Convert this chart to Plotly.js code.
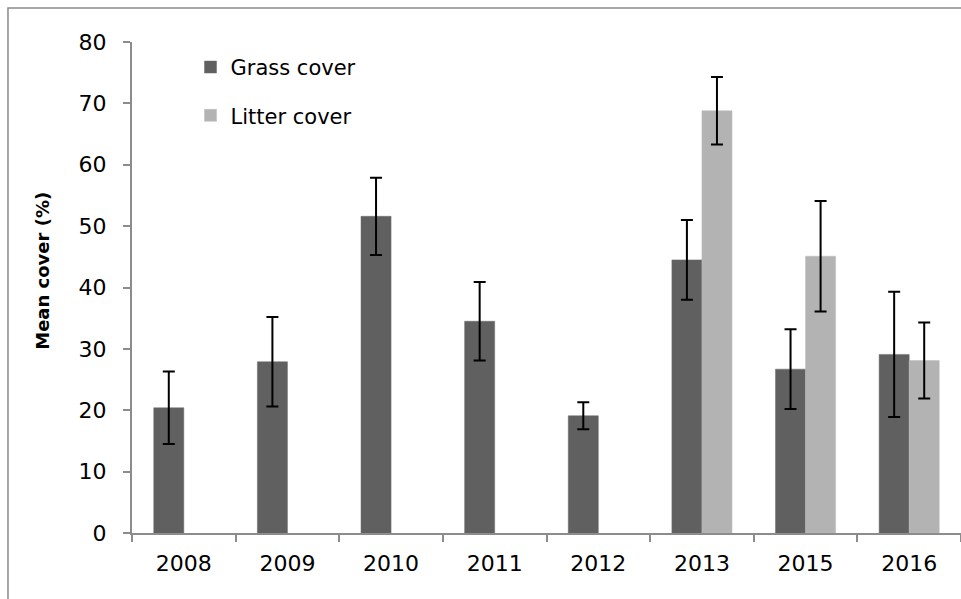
<!DOCTYPE html>
<html>
<head>
<meta charset="utf-8">
<script src="https://cdn.plot.ly/plotly-3.0.1.min.js"></script>
<style>
  html, body { margin: 0; padding: 0; background: #ffffff; }
  #chart { width: 961px; height: 599px; }
</style>
</head>
<body>
<div id="chart"></div>
<script>
// Survey years along the category axis
const years = ['2008', '2009', '2010', '2011', '2012', '2013', '2015', '2016'];

// Mean grass cover (%) and its error
const grassCover = [20.4, 27.9, 51.6, 34.5, 19.1, 44.5, 26.7, 29.1];
const grassError = [5.9, 7.3, 6.3, 6.4, 2.2, 6.5, 6.5, 10.2];

// Mean litter cover (%) and its error (only recorded from 2013)
const litterCover = [null, null, null, null, null, 68.8, 45.1, 28.1];
const litterError = [null, null, null, null, null, 5.5, 9.0, 6.2];

const fontFamily = '"DejaVu Sans", sans-serif';

const errStyle = (vals) => ({
  type: 'data', array: vals, visible: true,
  color: '#000000', thickness: 2, width: 6
});

const traces = [
  {
    type: 'bar', name: 'Grass cover', x: years, y: grassCover,
    marker: { color: '#606060', line: { color: '#6a6a6a', width: 0.5 } },
    error_y: errStyle(grassError), legendgroup: 'g'
  },
  {
    type: 'bar', name: 'Litter cover', x: years, y: litterCover,
    marker: { color: '#b3b3b3', line: { color: '#bcbcbc', width: 0.5 } },
    error_y: errStyle(litterError), legendgroup: 'l'
  }
];

const layout = {
  width: 961, height: 599,
  margin: { l: 132, r: 0, t: 42, b: 66 },
  paper_bgcolor: '#ffffff', plot_bgcolor: '#ffffff',
  font: { family: fontFamily, size: 21, color: '#000000' },
  barmode: 'group', bargap: 0.42, bargroupgap: 0,
  showlegend: true,
  legend: {
    x: 0.0706, y: 0.99, xanchor: 'left', yanchor: 'top',
    bgcolor: 'rgba(0,0,0,0)', traceorder: 'grouped', tracegroupgap: 18,
    font: { family: fontFamily, size: 21, color: '#000000' },
    itemwidth: 30
  },
  xaxis: {
    type: 'category', tickson: 'boundaries',
    showline: true, linecolor: '#8c8c8c', linewidth: 2,
    ticks: 'outside', ticklen: 7, tickcolor: '#8c8c8c', tickwidth: 2,
    ticklabelstandoff: 10,
    showgrid: false, zeroline: false,
    tickfont: { family: fontFamily, size: 22, color: '#000000' }
  },
  yaxis: {
    range: [0, 80], dtick: 10,
    showline: true, linecolor: '#8c8c8c', linewidth: 2,
    ticks: 'outside', ticklen: 7, tickcolor: '#8c8c8c', tickwidth: 2,
    ticklabelstandoff: 12,
    showgrid: false, zeroline: false,
    tickfont: { family: fontFamily, size: 22, color: '#000000' }
  },
  annotations: [
    // y-axis title
    {
      xref: 'paper', yref: 'paper', x: -0.1074, y: 0.534,
      xanchor: 'center', yanchor: 'middle', textangle: -90, showarrow: false,
      text: '<b>Mean cover (%)</b>',
      font: { family: fontFamily, size: 18, color: '#000000' }
    }
  ],
  shapes: [
    // outer chart frame
    {
      type: 'rect', xref: 'paper', yref: 'paper',
      x0: -0.1496, x1: 1.05, y0: -0.3, y1: 1.0692,
      line: { color: '#8a8a8a', width: 1.5 }, fillcolor: 'rgba(0,0,0,0)',
      layer: 'below'
    }
  ]
};

Plotly.newPlot('chart', traces, layout, { displayModeBar: false, staticPlot: true });
</script>
</body>
</html>
